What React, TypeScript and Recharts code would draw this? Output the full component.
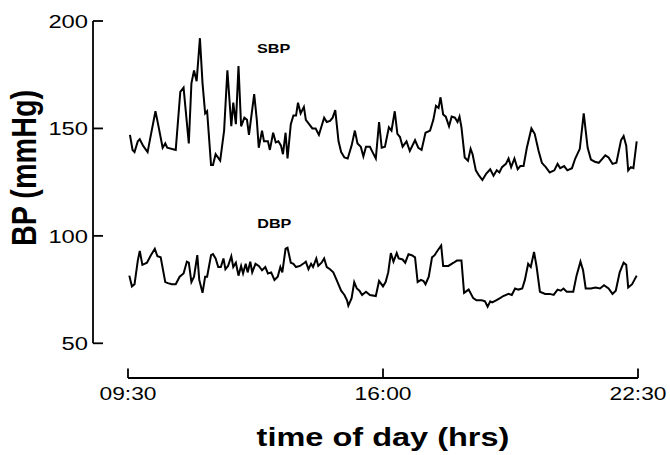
import { LineChart, Line, XAxis, YAxis, ReferenceLine, ReferenceDot } from "recharts";

// readings (time of reading, mmHg)
const sbpTimes = [
  "09:33", "09:37", "09:40", "09:45", "09:48", "09:53", "10:00", "10:05", "10:12", "10:16",
  "10:23", "10:27", "10:30", "10:43", "10:50", "10:55", "11:03", "11:07", "11:11", "11:15",
  "11:20", "11:24", "11:28", "11:31", "11:37", "11:40", "11:44", "11:51", "11:57", "12:02",
  "12:08", "12:11", "12:15", "12:19", "12:23", "12:28", "12:32", "12:35", "12:43", "12:47",
  "12:50", "12:55", "12:58", "13:04", "13:07", "13:12", "13:16", "13:20", "13:24", "13:27",
  "13:31", "13:34", "13:39", "13:43", "13:47", "13:50", "13:54", "13:59", "14:02", "14:07",
  "14:12", "14:17", "14:22", "14:26", "14:30", "14:34", "14:39", "14:43", "14:47", "14:52",
  "14:56", "15:01", "15:06", "15:12", "15:17", "15:21", "15:26", "15:30", "15:34", "15:40",
  "15:44", "15:49", "15:54", "15:58", "16:03", "16:09", "16:13", "16:18", "16:22", "16:26",
  "16:30", "16:36", "16:41", "16:49", "16:54", "16:59", "17:05", "17:12", "17:17", "17:21",
  "17:25", "17:28", "17:32", "17:36", "17:41", "17:45", "17:50", "17:54", "17:57", "18:00",
  "18:05", "18:10", "18:14", "18:17", "18:22", "18:27", "18:32", "18:38", "18:44", "18:49",
  "18:54", "18:58", "19:02", "19:08", "19:12", "19:16", "19:21", "19:26", "19:30", "19:35",
  "19:40", "19:47", "19:52", "19:58", "20:03", "20:09", "20:15", "20:22", "20:27", "20:31",
  "20:37", "20:42", "20:49", "20:54", "21:01", "21:07", "21:10", "21:13", "21:18", "21:24",
  "21:30", "21:40", "21:45", "21:51", "21:57", "22:04", "22:08", "22:12", "22:15", "22:19",
  "22:23", "22:28",
];
const sbpValues = [
  147, 140, 139, 144, 145, 142, 139, 147, 158, 152,
  141, 143, 141, 140, 167, 169, 143, 171, 177, 172,
  192, 171, 157, 158, 133, 133, 138, 135, 149, 177,
  151, 162, 152, 179, 151, 155, 154, 147, 166, 154,
  141, 149, 144, 144, 140, 148, 143.5, 144, 142, 138,
  148, 136, 152, 156, 156, 162, 157, 160, 154, 152,
  150, 150, 147, 151, 155, 153, 153.5, 155, 158.5, 144,
  139, 136.5, 136, 142, 149, 143, 141.5, 137, 141.5, 141.5,
  139, 136, 153, 141, 141.5, 150.5, 149, 158, 147.5, 146,
  141.5, 144, 139.5, 144.5, 141, 140, 148, 149, 154, 160.5,
  159.5, 164.5, 156.5, 155.5, 151, 155.5, 155, 153, 155.5, 150.5,
  136.5, 135, 140.5, 138, 130.5, 128, 126, 129, 131, 128,
  130.5, 129.5, 132, 133.5, 136, 132, 136, 131, 132.5, 132.5,
  141, 150, 147.5, 139.5, 134, 132, 129.5, 130.5, 133.5, 131.5,
  132.5, 130.5, 131.5, 136, 140.5, 157, 149, 141, 135.5, 134.5,
  134, 137.5, 136.5, 133.5, 134, 144.5, 146.5, 142, 130.5, 132,
  131.5, 144,
];

const dbpTimes = [
  "09:32", "09:36", "09:40", "09:45", "09:48", "09:52", "09:59", "10:05", "10:11", "10:15",
  "10:20", "10:27", "10:31", "10:37", "10:43", "10:49", "10:55", "11:00", "11:03", "11:07",
  "11:11", "11:16", "11:19", "11:24", "11:28", "11:31", "11:37", "11:40", "11:44", "11:48",
  "11:52", "11:56", "11:59", "12:03", "12:08", "12:11", "12:15", "12:19", "12:23", "12:26",
  "12:30", "12:33", "12:37", "12:40", "12:45", "12:50", "12:55", "13:00", "13:04", "13:09",
  "13:14", "13:19", "13:23", "13:26", "13:31", "13:34", "13:39", "13:43", "13:47", "13:53",
  "14:00", "14:02", "14:06", "14:10", "14:13", "14:18", "14:21", "14:26", "14:30", "14:34",
  "14:39", "14:44", "14:49", "14:56", "15:01", "15:05", "15:07", "15:12", "15:16", "15:20",
  "15:24", "15:28", "15:34", "15:40", "15:49", "15:54", "16:00", "16:04", "16:08", "16:12",
  "16:16", "16:21", "16:24", "16:30", "16:34", "16:39", "16:44", "16:49", "16:53", "16:58",
  "17:02", "17:05", "17:10", "17:15", "17:19", "17:22", "17:29", "17:32", "17:40", "17:48",
  "17:53", "18:00", "18:04", "18:11", "18:18", "18:23", "18:31", "18:36", "18:40", "18:44",
  "18:47", "18:53", "18:59", "19:04", "19:12", "19:17", "19:22", "19:27", "19:33", "19:37",
  "19:42", "19:46", "19:51", "19:55", "20:00", "20:08", "20:15", "20:21", "20:27", "20:32",
  "20:36", "20:41", "20:51", "20:56", "21:02", "21:06", "21:10", "21:18", "21:25", "21:32",
  "21:38", "21:45", "21:51", "21:56", "22:02", "22:08", "22:12", "22:15", "22:21", "22:28",
];
const dbpValues = [
  81.5, 76.5, 77.5, 88.5, 93, 86.5, 87.5, 91, 94, 90.5,
  90, 78.5, 78, 77.5, 77.5, 81, 82.5, 88, 87.5, 78.5,
  81, 91, 79.5, 73.5, 81, 81, 91, 91.5, 89.5, 85.5,
  85.5, 89.5, 84.5, 86, 90.5, 85.5, 87.5, 81.5, 86, 82.5,
  87, 83, 88, 83, 87, 86, 84, 85.5, 82.5, 83,
  79.5, 81, 85.5, 83, 94, 94.5, 87.5, 87, 85.5, 86,
  87.5, 88, 84.5, 87, 85.5, 89.5, 86, 87.5, 89.5, 85.5,
  84.5, 83, 79.5, 74.5, 72.5, 70, 67.5, 71, 78.5, 75.5,
  74.5, 72.5, 74, 72.5, 72, 79, 76.5, 78.5, 83, 92,
  88, 92, 89.5, 89, 87.5, 91.5, 91, 90, 78.5, 79.5,
  79, 77.5, 81, 90, 91, 92.5, 95.5, 86, 86, 87.5,
  88.5, 88.5, 73.5, 75, 71, 70, 70, 69.5, 67, 69.5,
  69, 70, 71, 72, 73, 72.5, 75.5, 75, 75.5, 79.5,
  87, 85.5, 92.5, 85.5, 74, 73, 73, 72.5, 75, 74.5,
  75.5, 74, 74, 81.5, 88, 84, 75.5, 75.5, 76, 75.5,
  77, 75.5, 73, 74.5, 83, 87.5, 86.5, 76, 77.5, 81.5,
];

const xTickLabels = ["09:30", "16:00", "22:30"];
const yTicks = [50, 100, 150, 200];

const toHours = (s: string) => {
  const [h, m] = s.split(":").map(Number);
  return h + m / 60;
};
const toClock = (h: number) => {
  const mins = Math.round(h * 60);
  return `${String(Math.floor(mins / 60)).padStart(2, "0")}:${String(mins % 60).padStart(2, "0")}`;
};

const sbpData = sbpTimes.map((t, i) => ({ t: toHours(t), bp: sbpValues[i] }));
const dbpData = dbpTimes.map((t, i) => ({ t: toHours(t), bp: dbpValues[i] }));
const xTicks = xTickLabels.map(toHours);

// the axes are drawn detached from the data area, so the plot box runs a bit past them
const X_MIN = 8.608;
const Y_MIN = 33.85;
const INK = "#000";
const FONT = "Liberation Sans, Arial, sans-serif";

// the original figure is a little wide for its height, so text gets a horizontal stretch
const Stretched = ({ x, y, sx = 1.25, size, bold = false, anchor = "middle", rotate, children }: any) => (
  <text
    transform={`translate(${x},${y}) scale(${sx},1)${rotate ? ` rotate(${rotate})` : ""}`}
    textAnchor={anchor}
    fontFamily={FONT}
    fontSize={size}
    fontWeight={bold ? "bold" : "normal"}
    fill={INK}
  >
    {children}
  </text>
);

const YTick = ({ x, y, payload }: any) => (
  <g>
    <line x1={x} x2={x + 10} y1={y} y2={y} stroke={INK} strokeWidth={1.8} />
    <Stretched x={x - 5} y={y + 6.8} size={19} anchor="end">{payload.value}</Stretched>
  </g>
);

const XTick = ({ x, y, payload }: any) => (
  <g>
    <line x1={x} x2={x} y1={y} y2={y - 9.5} stroke={INK} strokeWidth={1.8} />
    <Stretched x={x} y={y + 22} size={19} sx={1.2}>{toClock(payload.value)}</Stretched>
  </g>
);

const YTitle = () => (
  <Stretched x={35.5} y={168} size={28.8} bold rotate={-90}>BP (mmHg)</Stretched>
);

const XTitle = () => (
  <Stretched x={383} y={446} size={26} bold>time of day (hrs)</Stretched>
);

const seriesLabel = (text: string) => (props: any) => (
  <Stretched x={props.viewBox.x} y={props.viewBox.y + 4.8} size={13.5} sx={1.2} bold>{text}</Stretched>
);

export default function App() {
  return (
    <div style={{ position: "fixed", left: 0, top: 0, width: 670, height: 455, background: "#fff" }}>
      <LineChart width={670} height={455} margin={{ top: 21, right: 32, left: 0, bottom: 0 }}>
        <XAxis
          dataKey="t"
          type="number"
          domain={[X_MIN, 22.5]}
          allowDataOverflow
          ticks={xTicks}
          axisLine={false}
          tickLine={false}
          tickSize={0}
          tickMargin={0}
          tick={<XTick />}
          height={77}
          label={<XTitle />}
        />
        <YAxis
          type="number"
          domain={[Y_MIN, 200]}
          allowDataOverflow
          ticks={yTicks}
          axisLine={false}
          tickLine={false}
          tickSize={0}
          tickMargin={0}
          tick={<YTick />}
          width={93}
          label={<YTitle />}
        />
        <ReferenceLine segment={[{ x: X_MIN, y: 50 }, { x: X_MIN, y: 200 }]} stroke={INK} strokeWidth={1.8} ifOverflow="visible" />
        <ReferenceLine segment={[{ x: 9.5, y: Y_MIN }, { x: 22.5, y: Y_MIN }]} stroke={INK} strokeWidth={1.8} ifOverflow="visible" />
        <Line data={sbpData} dataKey="bp" type="linear" dot={false} stroke={INK} strokeWidth={2} isAnimationActive={false} />
        <Line data={dbpData} dataKey="bp" type="linear" dot={false} stroke={INK} strokeWidth={2} isAnimationActive={false} />
        <ReferenceDot x={13.21} y={187.4} r={0} fill="none" stroke="none" label={seriesLabel("SBP")} />
        <ReferenceDot x={13.23} y={106} r={0} fill="none" stroke="none" label={seriesLabel("DBP")} />
      </LineChart>
    </div>
  );
}
